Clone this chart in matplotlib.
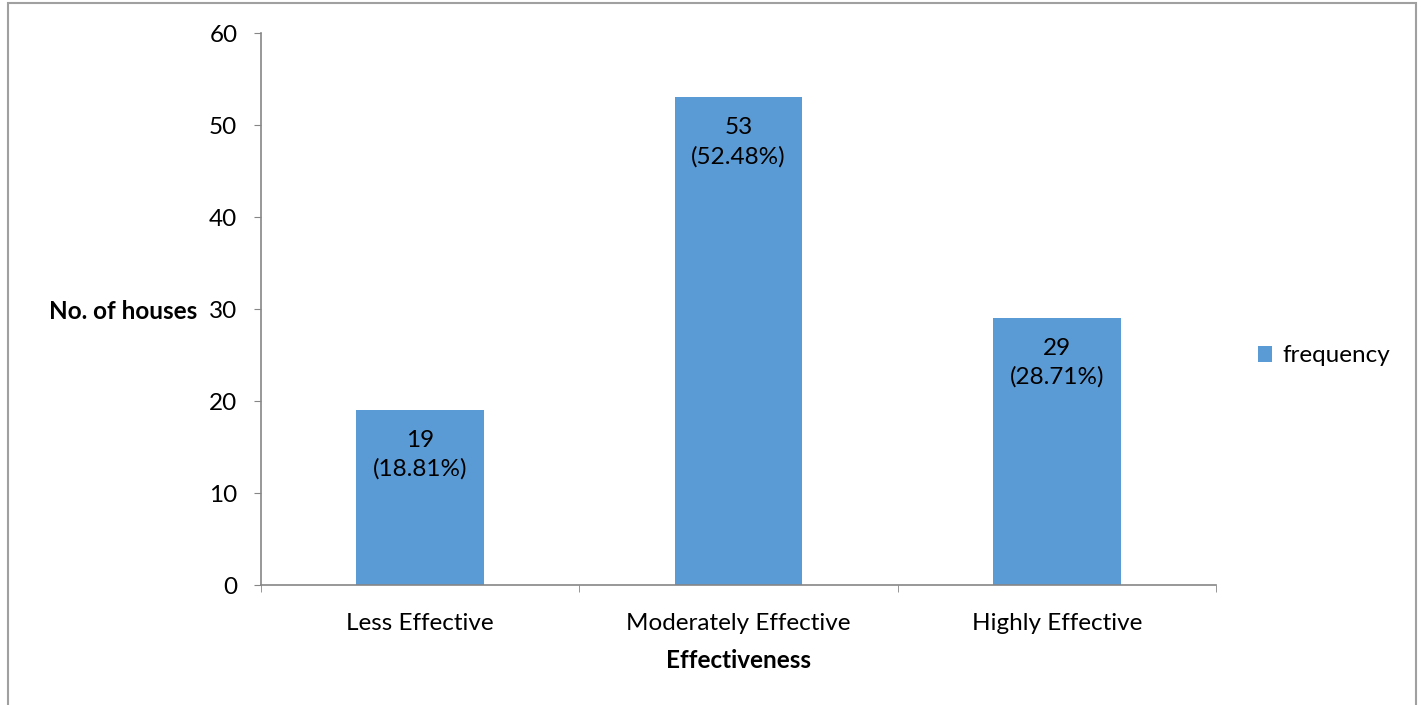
import matplotlib.pyplot as plt
from matplotlib.patches import Rectangle

categories = ['Less Effective', 'Moderately Effective', 'Highly Effective']
frequency = [19, 53, 29]
percent_labels = ['18.81%', '52.48%', '28.71%']

plt.rcParams['font.family'] = ['Lato', 'DejaVu Sans']
fs = 17.5

fig = plt.figure(figsize=(14.21, 7.05), dpi=100)
ax = fig.add_axes([261 / 1421, 1 - 585 / 705, (1216 - 261) / 1421, (585 - 33) / 705])

x = range(len(categories))
bars = ax.bar(x, frequency, width=0.4, color='#5B9BD5', label='frequency', zorder=2)

for xi, v, p in zip(x, frequency, percent_labels):
    ax.annotate(f'{v}\n({p})', xy=(xi, v), xytext=(0, -14), textcoords='offset points',
                ha='center', va='top', fontsize=fs, linespacing=1.45, color='#000000')

ax.set_xlim(-0.5, 2.5)
ax.set_ylim(0, 60)
ax.set_yticks(range(0, 61, 10))
ax.set_xticks(list(x))
ax.set_xticklabels(categories)
ax.set_xticks([-0.5, 0.5, 1.5, 2.5], minor=True)

for s in ['top', 'right']:
    ax.spines[s].set_visible(False)
for s in ['left', 'bottom']:
    ax.spines[s].set_color('#868686')
    ax.spines[s].set_linewidth(1.2)

ax.tick_params(axis='y', length=5, color='#868686', labelsize=fs, pad=12)
ax.tick_params(axis='x', which='major', length=0, labelsize=fs, pad=20)
ax.tick_params(axis='x', which='minor', length=5, color='#868686')

fig.text(197 / 1421, 1 - 311 / 705, 'No. of houses', ha='right', va='center',
         fontsize=fs, fontweight='bold')
fig.text(739 / 1421, 1 - 661 / 705, 'Effectiveness', ha='center', va='center',
         fontsize=fs, fontweight='bold')

ax.legend(loc='center left', bbox_to_anchor=(1236 / 1421, 1 - 356 / 705),
          bbox_transform=fig.transFigure, frameon=False, fontsize=fs,
          handlelength=0.6, handleheight=0.6, handletextpad=0.4)

fig.patches.append(Rectangle((8 / 1421, -0.05), (1416 - 8) / 1421, 1 - 3 / 705 + 0.05,
                             transform=fig.transFigure, fill=False,
                             edgecolor='#a0a0a0', linewidth=1.5))

fig.savefig('out.png', dpi=100)
